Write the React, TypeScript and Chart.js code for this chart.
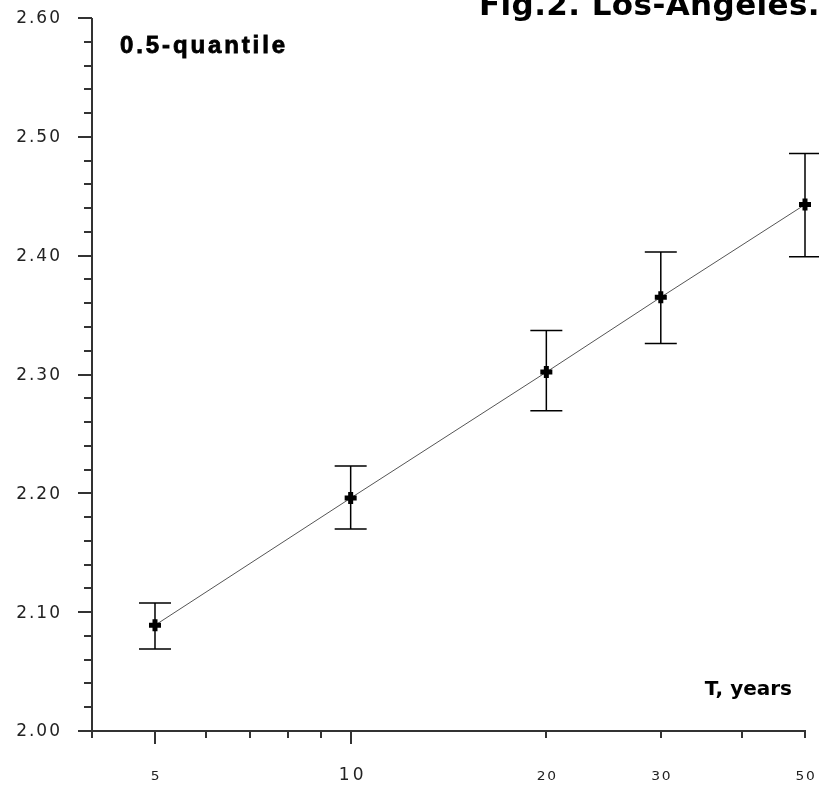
import React, { useEffect, useRef } from "react";
import { Chart, registerables } from "chart.js";

Chart.register(...registerables);

// Return period T (years), log scale
const periods = [5, 10, 20, 30, 50];
// 0.5-quantile estimates
const quantile = [2.089, 2.196, 2.302, 2.365, 2.443];
// error bar bounds
const lower = [2.069, 2.170, 2.2695, 2.326, 2.399];
const upper = [2.1077, 2.223, 2.337, 2.403, 2.486];

const xMin = 4;
const xMax = 50;
const yMin = 2.0;
const yMax = 2.6;

const xTickValues = [4, 5, 6, 7, 8, 9, 10, 20, 30, 40, 50];
const xLongTicks = [5, 10];
const xLabelValues = [5, 10, 20, 30, 50];
const xLabelTexts = ["5", "10", "20", "30", "50"];
const xBigLabel = [false, true, false, false, false];

const yMajorTicks = [2.0, 2.1, 2.2, 2.3, 2.4, 2.5, 2.6];
const yTickLabels = ["2.00", "2.10", "2.20", "2.30", "2.40", "2.50", "2.60"];
const yMinorStep = 0.02;

const titleText = "Fig.2. Los-Angeles.";
const subTitleText = "0.5-quantile";
const xAxisTitle = "T, years";

const axisColor = "#333";

const decorPlugin = {
  id: "decor",
  beforeDatasetsDraw(chart: any) {
    const ctx = chart.ctx as CanvasRenderingContext2D;
    const xs = chart.scales.x;
    const ys = chart.scales.y;
    const area = chart.chartArea;
    const x0 = Math.round(area.left);
    const y0 = Math.round(area.bottom);
    ctx.save();
    ctx.strokeStyle = axisColor;
    ctx.lineWidth = 2;
    // y axis line
    ctx.beginPath();
    ctx.moveTo(x0, Math.round(area.top));
    ctx.lineTo(x0, y0);
    ctx.stroke();
    // x axis line
    ctx.beginPath();
    ctx.moveTo(x0 - 14, y0);
    ctx.lineTo(Math.round(area.right) + 1, y0);
    ctx.stroke();
    // y ticks
    const nMinor = Math.round((yMax - yMin) / yMinorStep);
    for (let i = 0; i <= nMinor; i++) {
      const v = yMin + i * yMinorStep;
      const isMajor = yMajorTicks.some((m) => Math.abs(m - v) < 1e-6);
      const py = Math.round(ys.getPixelForValue(v));
      ctx.beginPath();
      ctx.moveTo(x0 - (isMajor ? 14 : 8), py);
      ctx.lineTo(x0, py);
      ctx.stroke();
    }
    // x ticks
    xTickValues.forEach((v) => {
      const px = Math.round(xs.getPixelForValue(v));
      const len = xLongTicks.includes(v) ? 13 : 7;
      ctx.beginPath();
      ctx.moveTo(px, y0);
      ctx.lineTo(px, y0 + len);
      ctx.stroke();
    });
    // y labels
    ctx.fillStyle = "#222";
    ctx.textAlign = "right";
    ctx.textBaseline = "middle";
    ctx.font = '17px "DejaVu Sans"';
    (ctx as any).letterSpacing = "2px";
    yMajorTicks.forEach((v, i) => {
      const py = ys.getPixelForValue(v);
      ctx.fillText(yTickLabels[i], x0 - 30, py + 1);
    });
    // x labels
    ctx.textAlign = "center";
    xLabelValues.forEach((v, i) => {
      const px = xs.getPixelForValue(v);
      if (xBigLabel[i]) {
        ctx.font = '17px "DejaVu Sans"';
        (ctx as any).letterSpacing = "3px";
        ctx.fillText(xLabelTexts[i], px + 2, y0 + 45);
      } else {
        ctx.font = '12px "DejaVu Sans"';
        (ctx as any).letterSpacing = "1.5px";
        ctx.save();
        ctx.translate(px + 1, y0 + 46);
        ctx.scale(1.15, 1);
        ctx.fillText(xLabelTexts[i], 0, 0);
        ctx.restore();
      }
    });
    (ctx as any).letterSpacing = "0px";
    // texts
    ctx.fillStyle = "#000";
    ctx.strokeStyle = "#000";
    ctx.textBaseline = "alphabetic";
    ctx.textAlign = "left";
    ctx.font = 'bold 31px "DejaVu Sans"';
    (ctx as any).letterSpacing = "0.4px";
    ctx.fillText(titleText, x0 + 387, 15);
    (ctx as any).letterSpacing = "0px";

    // bold subtitle
    ctx.font = 'bold 24px "Liberation Sans", Arial';
    const w = ctx.measureText(subTitleText).width;
    const sp = Math.max(0, (165 - w) / (subTitleText.length - 1));
    (ctx as any).letterSpacing = sp.toFixed(2) + "px";
    ctx.lineWidth = 0.8;
    ctx.fillText(subTitleText, x0 + 28, 53);
    ctx.strokeText(subTitleText, x0 + 28, 53);
    (ctx as any).letterSpacing = "0px";

    ctx.textAlign = "right";
    ctx.font = 'bold 20px "DejaVu Sans"';
    ctx.fillText(xAxisTitle, Math.round(area.right) - 13, 695);

    // error bars
    ctx.strokeStyle = "#000";
    ctx.lineWidth = 1.5;
    periods.forEach((p, i) => {
      const px = xs.getPixelForValue(p);
      const pl = ys.getPixelForValue(lower[i]);
      const pu = ys.getPixelForValue(upper[i]);
      ctx.beginPath();
      ctx.moveTo(px, pl);
      ctx.lineTo(px, pu);
      ctx.moveTo(px - 16, pl);
      ctx.lineTo(px + 16, pl);
      ctx.moveTo(px - 16, pu);
      ctx.lineTo(px + 16, pu);
      ctx.stroke();
    });
    ctx.restore();
  },
};

export default function App() {
  const canvasRef = useRef<HTMLCanvasElement | null>(null);
  useEffect(() => {
    if (!canvasRef.current) return;
    const chart = new Chart(canvasRef.current, {
      type: "scatter",
      data: {
        datasets: [
          {
            data: periods.map((p, i) => ({ x: p, y: quantile[i] })),
            showLine: true,
            borderColor: "#555",
            borderWidth: 1,
            pointStyle: "cross",
            pointRadius: 6,
            pointBorderWidth: 5,
            pointBorderColor: "#000",
            pointBackgroundColor: "#000",
            clip: false as any,
          },
        ],
      },
      options: {
        responsive: false,
        animation: false,
        layout: { padding: { left: 92, right: 14, top: 18, bottom: 56 } },
        plugins: { legend: { display: false }, tooltip: { enabled: false }, title: { display: false } },
        scales: {
          x: { type: "logarithmic", min: xMin, max: xMax, display: false },
          y: { type: "linear", min: yMin, max: yMax, display: false },
        },
      },
      plugins: [decorPlugin],
    });
    return () => chart.destroy();
  }, []);
  return (
    <div style={{ position: "absolute", left: 0, top: 0, width: 819, height: 787, background: "#fff" }}>
      <canvas ref={canvasRef} width={819} height={787} />
    </div>
  );
}
